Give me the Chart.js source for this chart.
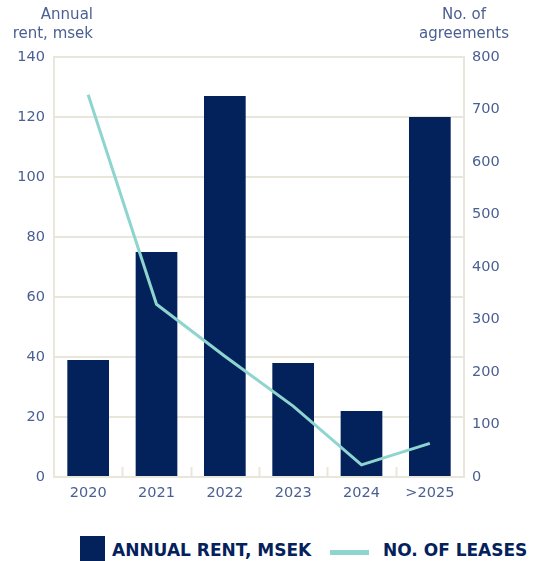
<!DOCTYPE html>
<html>
<head>
<meta charset="utf-8">
<script src="https://cdn.jsdelivr.net/npm/chart.js@4"></script>
<style>
  body { margin: 0; background: #fff; }
  #wrap { position: relative; width: 536px; height: 561px; overflow: hidden; }
  #grafico { position: absolute; left: 0; top: 0; }
  .titulo { position: absolute; font-family: "DejaVu Sans", sans-serif; font-size: 15px; color: #4a5f92; line-height: 19px; }
  #leyenda { position: absolute; left: 0; top: 536px; width: 536px; height: 25px; font-family: "DejaVu Sans", sans-serif; font-weight: bold; font-size: 17px; color: #03215b; }
  #leyenda span { position: absolute; white-space: nowrap; }
</style>
</head>
<body>
<div id="wrap">
  <canvas id="grafico" width="536" height="510"></canvas>
  <div class="titulo" style="left:0; width:93px; top:5px; text-align:right;">Annual<br>rent, msek</div>
  <div class="titulo" style="left:404px; width:120px; top:5px; text-align:center;">No. of<br>agreements</div>
  <div id="leyenda">
    <span style="left:80px; top:0; width:25px; height:25px; background:#03215b;"></span>
    <span style="left:112px; top:4px;">ANNUAL RENT, MSEK</span>
    <span style="left:330px; top:14px; width:39px; height:5px; background:#8fd5cf;"></span>
    <span style="left:383px; top:4px;">NO. OF LEASES</span>
  </div>
</div>
<script>
// datos
const categorias = ['2020', '2021', '2022', '2023', '2024', '>2025'];
const rentaAnual = [39, 75, 127, 38, 22, 120];        // msek
const numContratos = [728, 329, 230, 135, 23, 64];    // no. of agreements

const colorTexto = '#4a5f92';
const colorRejilla = '#e9e7dc';
const fuente = { family: '"DejaVu Sans", sans-serif', size: 14.5 };

// marcas pequenas entre categorias, hacia dentro del area
const marcasX = {
  id: 'marcasX',
  afterDraw(chart) {
    const area = chart.chartArea;
    const c = chart.ctx;
    c.save();
    c.strokeStyle = colorRejilla;
    c.lineWidth = 2;
    const paso = (area.right - area.left) / categorias.length;
    for (let i = 1; i < categorias.length; i++) {
      const px = Math.round(area.left + paso * i) + 0.5;
      c.beginPath();
      c.moveTo(px, area.bottom - 10);
      c.lineTo(px, area.bottom);
      c.stroke();
    }
    c.restore();
  }
};

const ctx = document.getElementById('grafico').getContext('2d');
const chart = new Chart(ctx, {
  type: 'bar',
  data: {
    labels: categorias,
    datasets: [{
      type: 'line',
      label: 'No. of leases',
      data: numContratos,
      yAxisID: 'y2',
      borderColor: '#8fd5cf',
      borderWidth: 3,
      pointRadius: 0,
      tension: 0,
      fill: false,
      order: 0
    },
    {
      type: 'bar',
      label: 'Annual rent, msek',
      data: rentaAnual,
      yAxisID: 'y',
      backgroundColor: '#03215b',
      barPercentage: 0.61,
      categoryPercentage: 1,
      order: 1
    }]
  },
  options: {
    responsive: false,
    animation: false,
    layout: { padding: { top: 57, left: 0, right: 0, bottom: 0 } },
    plugins: {
      legend: { display: false },
      tooltip: { enabled: false }
    },
    scales: {
      x: {
        offset: true,
        grid: { display: false, drawTicks: false },
        border: { display: true, color: colorRejilla, width: 2 },
        ticks: { color: colorTexto, font: fuente, padding: 8, maxRotation: 0 },
        afterFit(s) { s.height = 33; }
      },
      y: {
        position: 'left',
        min: 0, max: 140,
        ticks: { stepSize: 20, color: colorTexto, font: fuente, padding: 9 },
        grid: { color: colorRejilla, lineWidth: 2, drawTicks: false },
        border: { display: true, color: colorRejilla, width: 2 },
        afterFit(s) { s.width = 54; }
      },
      y2: {
        position: 'right',
        min: 0, max: 800,
        ticks: { stepSize: 100, color: colorTexto, font: fuente, padding: 8 },
        grid: { drawOnChartArea: false, drawTicks: false },
        border: { display: true, color: colorRejilla, width: 2 },
        afterFit(s) { s.width = 72; }
      }
    }
  },
  plugins: [marcasX]
});
</script>
</body>
</html>
